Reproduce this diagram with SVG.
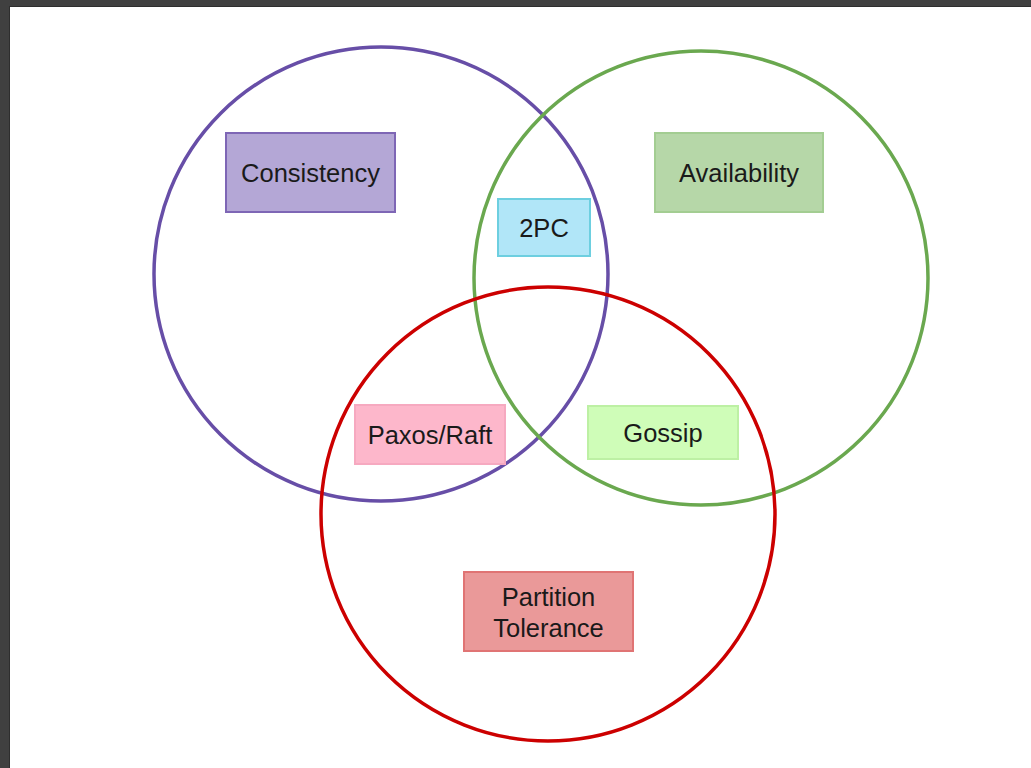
<svg xmlns="http://www.w3.org/2000/svg" width="1031" height="768" viewBox="0 0 1031 768">
<style>
.c{fill:none;stroke-width:3.5}
.b{stroke-width:2}
.t{font-family:"Liberation Sans",Arial,sans-serif;font-size:25.5px;fill:#1a1a1a;text-anchor:middle}
</style>
<rect x="0" y="0" width="1031" height="768" fill="#404040"/>
<rect x="9" y="6" width="1022" height="762" fill="#2e2e2e"/>
<rect x="10" y="7" width="1021" height="761" fill="#ffffff"/>
<g id="circles">
<circle id="circle-c" class="c" cx="381" cy="274" r="227" stroke="#674ea7"/>
<circle id="circle-a" class="c" cx="701" cy="278" r="227" stroke="#6aa84f"/>
<circle id="circle-p" class="c" cx="548" cy="514" r="227" stroke="#cc0000"/>
</g>
<g id="consistency"><rect class="b" x="226" y="133" width="169" height="79" fill="#b4a7d6" stroke="#7e66b5"/><text class="t" x="310.5" y="182">Consistency</text></g>
<g id="twopc"><rect class="b" x="498" y="199" width="92" height="57" fill="#b1e6f8" stroke="#6dcfe0"/><text class="t" x="544" y="237">2PC</text></g>
<g id="availability"><rect class="b" x="655" y="133" width="168" height="79" fill="#b6d7a8" stroke="#a3cd92"/><text class="t" x="739" y="182">Availability</text></g>
<g id="paxos"><rect class="b" x="355" y="405" width="150" height="59" fill="#fdb7cb" stroke="#f6a9c0"/><text class="t" x="430" y="444">Paxos/Raft</text></g>
<g id="gossip"><rect class="b" x="588" y="406" width="150" height="53" fill="#cffdb8" stroke="#bdf0a4"/><text class="t" x="663" y="442">Gossip</text></g>
<g id="partition"><rect class="b" x="464" y="572" width="169" height="79" fill="#ea9999" stroke="#e07474"/><text class="t" x="548.5" y="606">Partition</text><text class="t" x="548.5" y="637">Tolerance</text></g>
<g id="connectors"></g>
</svg>
